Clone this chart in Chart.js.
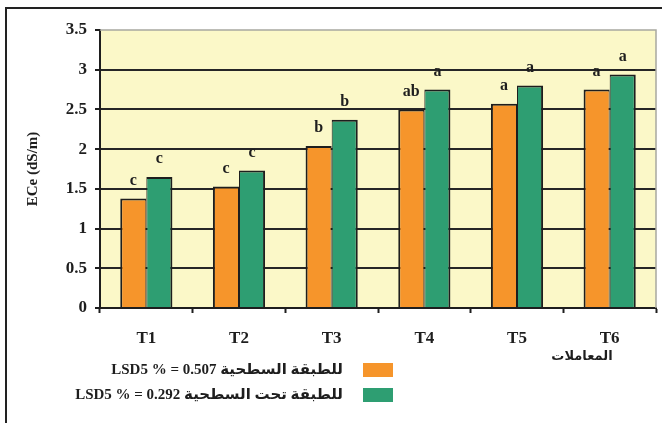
<!DOCTYPE html>
<html>
<head>
<meta charset="utf-8">
<script src="https://cdn.jsdelivr.net/npm/chart.js@4.4.1/dist/chart.umd.min.js"></script>
<style>
  html, body { margin: 0; padding: 0; background: #ffffff; }
  #wrap { width: 662px; height: 423px; }
</style>
</head>
<body>
<div id="wrap"><canvas id="chart" width="662" height="423"></canvas></div>
<script>
// Treatments and soil salinity (ECe, dS/m) for the two soil layers
const categories = ['T1', 'T2', 'T3', 'T4', 'T5', 'T6'];
const surfaceEC = [1.38, 1.53, 2.04, 2.50, 2.57, 2.75];
const subsurfaceEC = [1.65, 1.73, 2.37, 2.75, 2.80, 2.94];
const surfaceLetters = ['c', 'c', 'b', 'ab', 'a', 'a'];
const subsurfaceLetters = ['c', 'c', 'b', 'a', 'a', 'a'];
const yTickLabels = ['0', '0.5', '1', '1.5', '2', '2.5', '3', '3.5'];
const surfaceLabel = 'LSD5 % = 0.507 للطبقة السطحية';
const subsurfaceLabel = 'LSD5 % = 0.292 للطبقة تحت السطحية';
const yTitle = 'ECe (dS/m)';
const xTitle = 'المعاملات';

const SERIF = "'Liberation Serif', 'Times New Roman', 'DejaVu Sans', serif";
const ORANGE = '#F6952B';
const GREEN = '#2E9E72';
const INK = '#1e1e1e';
const PLOT_BG = '#FBF8C8';

// Page frame and plot background
const backdrop = {
  id: 'backdrop',
  beforeDraw(chart) {
    const { ctx, chartArea: a, width, height } = chart;
    ctx.save();
    ctx.fillStyle = '#ffffff';
    ctx.fillRect(0, 0, width, height);
    ctx.strokeStyle = '#222222';
    ctx.lineWidth = 2;
    ctx.beginPath();
    ctx.moveTo(width, 8);
    ctx.lineTo(6, 8);
    ctx.lineTo(6, height);
    ctx.stroke();
    ctx.fillStyle = PLOT_BG;
    ctx.fillRect(a.left, a.top, a.right - a.left, a.bottom - a.top);
    ctx.restore();
  }
};

// Significance letters, plot outline, legend rows and the treatments caption
const annotations = {
  id: 'annotations',
  afterDatasetsDraw(chart) {
    const { ctx, chartArea: a } = chart;
    ctx.save();
    // light outline on the top and right of the plot
    ctx.strokeStyle = '#a8a8a0';
    ctx.lineWidth = 1.5;
    ctx.beginPath();
    ctx.moveTo(a.left, a.top);
    ctx.lineTo(a.right, a.top);
    ctx.lineTo(a.right, a.bottom);
    ctx.stroke();

    ctx.fillStyle = INK;
    ctx.font = `bold 16px ${SERIF}`;
    ctx.textAlign = 'center';
    ctx.textBaseline = 'middle';
    const letterSets = [surfaceLetters, subsurfaceLetters];
    letterSets.forEach((letters, di) => {
      chart.getDatasetMeta(di).data.forEach((bar, i) => {
        ctx.fillText(letters[i], bar.x, bar.y - 18);
      });
    });

    // legend
    const rows = [
      { text: chart.data.datasets[0].label, color: ORANGE, y: 370 },
      { text: chart.data.datasets[1].label, color: GREEN, y: 395 }
    ];
    rows.forEach(r => {
      ctx.fillStyle = r.color;
      ctx.fillRect(363, r.y - 7, 30, 14);
      ctx.fillStyle = INK;
      ctx.font = `bold 15px ${SERIF}`;
      ctx.textAlign = 'right';
      ctx.direction = 'ltr';
      ctx.fillText(r.text, 343, r.y);
    });

    ctx.font = `bold 13px ${SERIF}`;
    ctx.textAlign = 'center';
    ctx.fillText(xTitle, 582, 357);
    ctx.restore();
  }
};

new Chart(document.getElementById('chart'), {
  type: 'bar',
  data: {
    labels: categories,
    datasets: [
      {
        label: surfaceLabel,
        data: surfaceEC,
        backgroundColor: ORANGE,
        borderColor: INK,
        borderWidth: { top: 2, left: 2, right: 1, bottom: 0 },
        borderSkipped: false
      },
      {
        label: subsurfaceLabel,
        data: subsurfaceEC,
        backgroundColor: GREEN,
        borderColor: INK,
        borderWidth: { top: 2, left: 1, right: 2, bottom: 0 },
        borderSkipped: false
      }
    ]
  },
  options: {
    responsive: false,
    animation: false,
    devicePixelRatio: 1,
    layout: { padding: { top: 30, right: 6, left: 0, bottom: 0 } },
    datasets: { bar: { categoryPercentage: 0.563, barPercentage: 1.0 } },
    plugins: {
      legend: { display: false },
      tooltip: { enabled: false }
    },
    scales: {
      x: {
        afterFit(scale) { scale.height = 115; },
        grid: {
          offset: true,
          drawOnChartArea: false,
          drawTicks: true,
          tickLength: 5,
          tickWidth: 2,
          tickColor: INK
        },
        border: { display: true, color: INK, width: 2 },
        ticks: {
          color: INK,
          padding: 15,
          font: { family: SERIF, size: 17, weight: 'bold' }
        }
      },
      y: {
        min: 0,
        max: 3.5,
        afterFit(scale) { scale.width = 100; },
        grid: {
          color: ctx => (ctx.tick && ctx.tick.value === 3.5 ? 'rgba(0,0,0,0)' : '#262626'),
          lineWidth: 2,
          drawTicks: true,
          tickLength: 5,
          tickWidth: 2,
          tickColor: INK
        },
        border: { display: true, color: INK, width: 2 },
        ticks: {
          stepSize: 0.5,
          color: INK,
          padding: 8,
          font: { family: SERIF, size: 17, weight: 'bold' },
          callback: (v, i) => yTickLabels[i]
        },
        title: {
          display: true,
          text: yTitle,
          color: INK,
          padding: { top: 24, bottom: 0 },
          font: { family: SERIF, size: 15, weight: 'bold' }
        }
      }
    }
  },
  plugins: [backdrop, annotations]
});
</script>
</body>
</html>
